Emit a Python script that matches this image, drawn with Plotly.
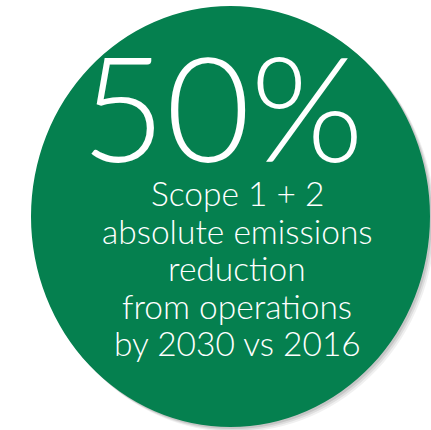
import plotly.graph_objects as go

# ---- data (text content) ----
headline_value = ["50%"]
caption_lines = ["Scope 1 + 2", "absolute emissions", "reduction",
                 "from operations", "by 2030 vs 2016"]

# ---- styling / layout constants ----
W, H = 431, 430
GREEN = "#05804F"
FONT = "Lato"
cx, cy = 230.5, 216.5
rx, ry = 199.5, 210.5

fig = go.Figure()

# shadow layers (bottom-right)
for dx, op in [(5, 0.06), (3.5, 0.08), (2, 0.10)]:
    fig.add_shape(type="circle", xref="x", yref="y",
                  x0=cx - rx + dx, x1=cx + rx + dx, y0=cy - ry + dx, y1=cy + ry + dx,
                  fillcolor=f"rgba(0,0,0,{op})", line_width=0, layer="below")

fig.add_shape(type="circle", xref="x", yref="y",
              x0=cx - rx, x1=cx + rx, y0=cy - ry, y1=cy + ry,
              fillcolor=GREEN, line_width=0, layer="below")

# headline
fig.add_annotation(x=222, y=105, text=headline_value[0], showarrow=False,
                   xanchor="center", yanchor="middle",
                   font=dict(family=FONT, size=146, color="white", weight=300))

line_top = 193
line_gap = 37.5
for i, t in enumerate(caption_lines):
    fig.add_annotation(x=237, y=line_top + i * line_gap, text=t, showarrow=False,
                       xanchor="center", yanchor="middle",
                       font=dict(family=FONT, size=33.5, color="white", weight=300))

fig.update_xaxes(range=[0, W], visible=False, fixedrange=True)
fig.update_yaxes(range=[H, 0], visible=False, fixedrange=True)
fig.update_layout(width=W, height=H, margin=dict(l=0, r=0, t=0, b=0),
                  paper_bgcolor="white", plot_bgcolor="white", showlegend=False)

fig.write_html("out.html", config={"displayModeBar": False},
               post_script="document.body.style.margin='0';document.body.style.overflow='hidden';")
